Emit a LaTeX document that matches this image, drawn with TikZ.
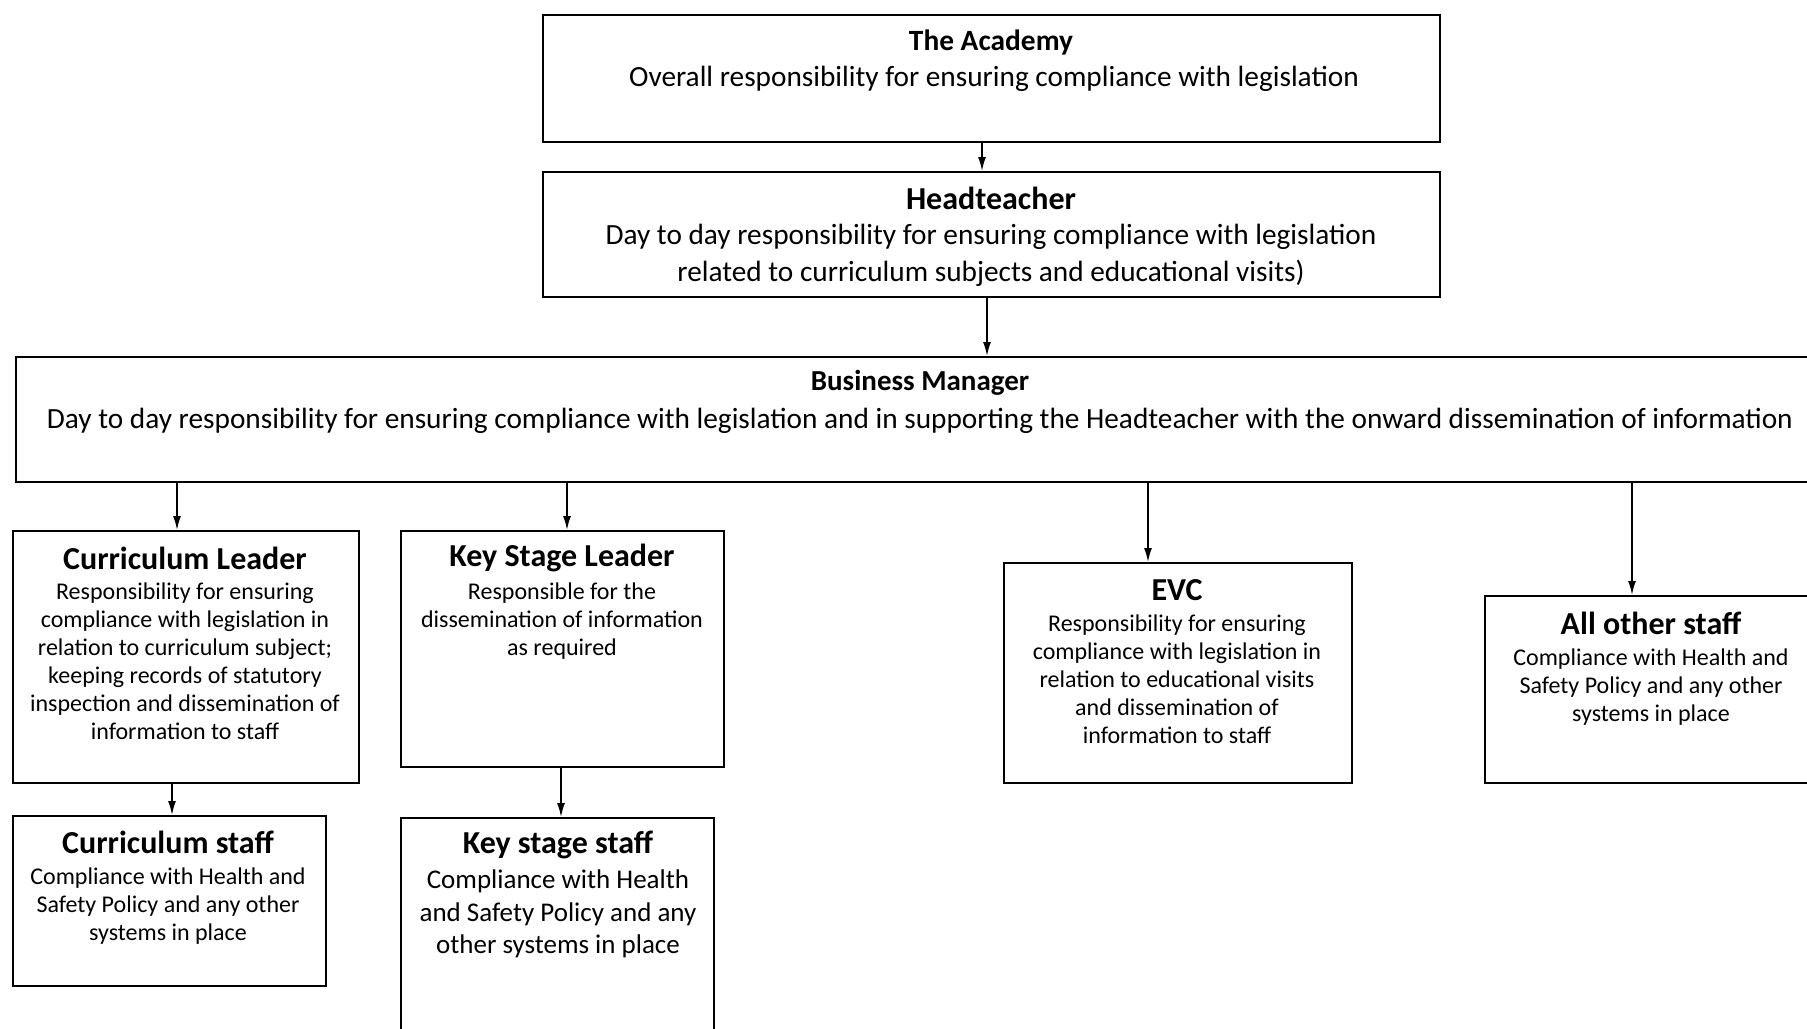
\documentclass[tikz,border=0pt]{standalone}
\usepackage{fontspec}
\setmainfont{Carlito}
\usetikzlibrary{arrows.meta,positioning}

\tikzset{
  box/.style={draw, line width=2pt, inner sep=0pt, anchor=north west},
  title/.style={inner sep=0pt, font=\bfseries\fontsize{32}{36}\selectfont},
  body/.style={inner sep=0pt, anchor=north, align=center, font=\fontsize{24}{28}\selectfont},
  arr/.style={line width=1.6pt, -{Latex[length=14pt,width=8pt]}}
}

\begin{document}
\begin{tikzpicture}[x=1pt,y=-1pt]
  \useasboundingbox (0,0) rectangle (1807,1028);
  \clip (0,0) rectangle (1807,1028);

  % top of the chart
  \node[box, minimum width=897pt, minimum height=127pt] (acad) at (542,14) {};
  \node[title, font=\bfseries\fontsize{29.4}{34}\selectfont] (acadtitle) at (991,42.5) {The Academy};
  \node[body, font=\fontsize{29.3}{36}\selectfont] (acadtext) at (994,66)
    {Overall responsibility for ensuring compliance with legislation};

  \node[box, minimum width=897pt, minimum height=125pt] (head) at (542,171) {};
  \node[title, font=\bfseries\fontsize{32}{36}\selectfont] (headtitle) at (991,198) {Headteacher};
  \node[body, font=\fontsize{29.3}{37}\selectfont] (headtext) at (991,224)
    {Day to day responsibility for ensuring compliance with legislation\\
     related to curriculum subjects and educational visits)};

  \node[box, minimum width=1810pt, minimum height=125pt] (bm) at (15,356) {};
  \node[title, font=\bfseries\fontsize{29}{34}\selectfont] (bmtitle) at (920,383) {Business Manager};
  \node[body, font=\fontsize{29.3}{37}\selectfont] (bmtext) at (920,408)
    {Day to day responsibility for ensuring compliance with legislation and in supporting the Headteacher with the onward dissemination of information};

  % leaders
  \node[box, minimum width=346pt, minimum height=252pt] (cl) at (12,530) {};
  \node[title] (cltitle) at (185,558) {Curriculum Leader};
  \node[body] (cltext) at (185,583)
    {Responsibility for ensuring\\ compliance with legislation in\\ relation to curriculum subject;\\
     keeping records of statutory\\ inspection and dissemination of\\ information to staff};

  \node[box, minimum width=323pt, minimum height=236pt] (ksl) at (400,530) {};
  \node[title] (ksltitle) at (562,558) {Key Stage Leader};
  \node[body] (ksltext) at (562,583)
    {Responsible for the\\ dissemination of information\\ as required};

  \node[box, minimum width=348pt, minimum height=220pt] (evc) at (1003,562) {};
  \node[title] (evctitle) at (1177,590) {EVC};
  \node[body] (evctext) at (1177,615)
    {Responsibility for ensuring\\ compliance with legislation in\\ relation to educational visits\\
     and dissemination of\\ information to staff};

  \node[box, minimum width=334pt, minimum height=187pt] (aos) at (1484,595) {};
  \node[title] (aostitle) at (1651,623) {All other staff};
  \node[body] (aostext) at (1651,649)
    {Compliance with Health and\\ Safety Policy and any other\\ systems in place};

  % staff
  \node[box, minimum width=313pt, minimum height=170pt] (cs) at (12,815) {};
  \node[title] (cstitle) at (168,842) {Curriculum staff};
  \node[body] (cstext) at (168,868)
    {Compliance with Health and\\ Safety Policy and any other\\ systems in place};

  \node[box, minimum width=313pt, minimum height=230pt] (kss) at (400,817) {};
  \node[title] (ksstitle) at (558,845) {Key stage staff};
  \node[body, font=\fontsize{27}{32.3}\selectfont] (ksstext) at (558,870)
    {Compliance with Health\\ and Safety Policy and any\\ other systems in place};

  % arrows
  \draw[arr] ([xshift=-9.5pt]acad.south) -- ([xshift=-9.5pt]acad.south |- head.north);
  \draw[arr] ([xshift=-4.5pt]head.south) -- ([xshift=-4.5pt]head.south |- bm.north);
  \draw[arr] ([xshift=-9pt]cl.north |- bm.south) -- ([xshift=-9pt]cl.north);
  \draw[arr] ([xshift=4.5pt]ksl.north |- bm.south) -- ([xshift=4.5pt]ksl.north);
  \draw[arr] ([xshift=-30pt]evc.north |- bm.south) -- ([xshift=-30pt]evc.north);
  \draw[arr] ([xshift=-20pt]aos.north |- bm.south) -- ([xshift=-20pt]aos.north);
  \draw[arr] ([xshift=-14pt]cl.south) -- ([xshift=-14pt]cl.south |- cs.north);
  \draw[arr] ([xshift=-1.5pt]ksl.south) -- ([xshift=-1.5pt]ksl.south |- kss.north);
\end{tikzpicture}
\end{document}
